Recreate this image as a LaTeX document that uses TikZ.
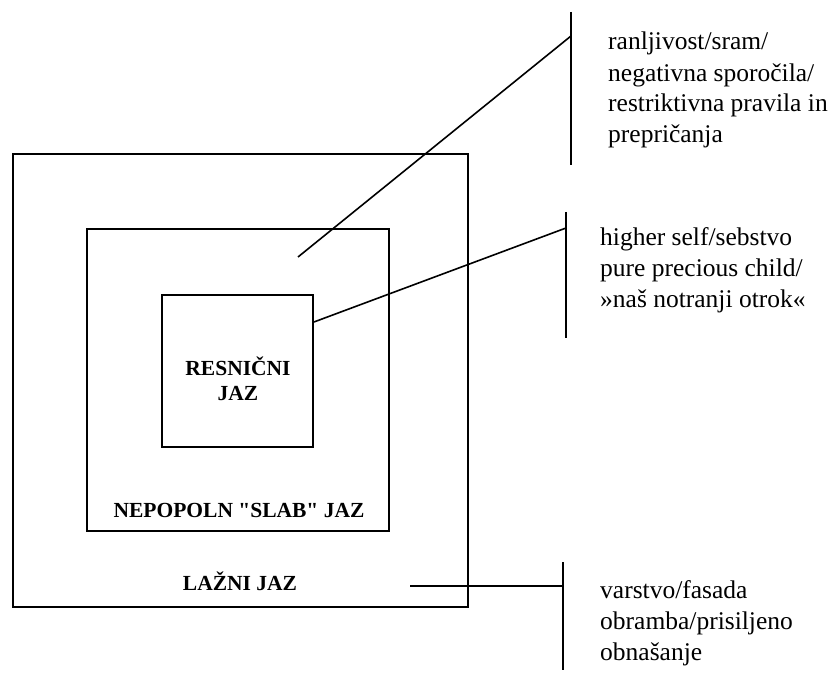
\documentclass[tikz,border=0pt]{standalone}
\usepackage{fontspec}
\setmainfont{Liberation Serif}[Ligatures=TeXOff]
\usetikzlibrary{calc}
\begin{document}
\begin{tikzpicture}[x=1pt,y=-1pt,
  frame/.style={draw=black,line width=1.9pt,inner sep=0pt,fill=none},
  leader/.style={draw=black,line width=1.6pt},
  note/.style={anchor=base west,inner sep=0pt,align=left,font=\fontsize{25.5}{31}\selectfont},
  title/.style={anchor=base,inner sep=0pt,align=center,font=\fontsize{21.5}{25}\selectfont\bfseries}]
\useasboundingbox[fill=white] (0,0) rectangle (839,674);

% three nested boxes
\node[frame,minimum width=455pt,minimum height=453pt] (outer) at (240.5,380.5) {};
\node[frame,minimum width=302pt,minimum height=302pt] (middle) at (238,380) {};
\node[frame,minimum width=151pt,minimum height=152pt] (inner) at (237.5,371) {};

% box labels (base anchor sits on the last line)
\node[title] (true) at (238,400) {RESNIČNI\\JAZ};
\node[title] (weak) at (239,517) {NEPOPOLN "SLAB" JAZ};
\node[title] (false) at (240,590) {LAŽNI JAZ};

% bracket bars beside the notes
\coordinate (barAtop) at (571,12);  \coordinate (barAbot) at (571,165);
\coordinate (barBtop) at (566,212); \coordinate (barBbot) at (566,338);
\coordinate (barCtop) at (563,562); \coordinate (barCbot) at (563,670);
\draw[leader] (barAtop) -- (barAbot);
\draw[leader] (barBtop) -- (barBbot);
\draw[leader] (barCtop) -- (barCbot);

% leader lines
\coordinate (barAjoin) at (571,36);
\coordinate (middleSpot) at (298,257);
\coordinate (barBjoin) at (566,228);
\coordinate (innerSpot) at ($(inner.east)+(0,-49)$);
\coordinate (outerSpot) at (410,586);
\coordinate (barCjoin) at (563,586);
\draw[leader] (barAjoin) -- (middleSpot);
\draw[leader] (barBjoin) -- (innerSpot);
\draw[leader] (outerSpot) -- (barCjoin);

% notes (base anchor sits on the last line)
\node[note] (noteA) at (608,143) {ranljivost/sram/\\negativna sporočila/\\restriktivna pravila in\\prepričanja};
\node[note] (noteB) at (600,307) {higher self/sebstvo\\pure precious child/\\»naš notranji otrok«};
\node[note] (noteC) at (600,660) {varstvo/fasada\\obramba/prisiljeno\\obnašanje};
\end{tikzpicture}
\end{document}
